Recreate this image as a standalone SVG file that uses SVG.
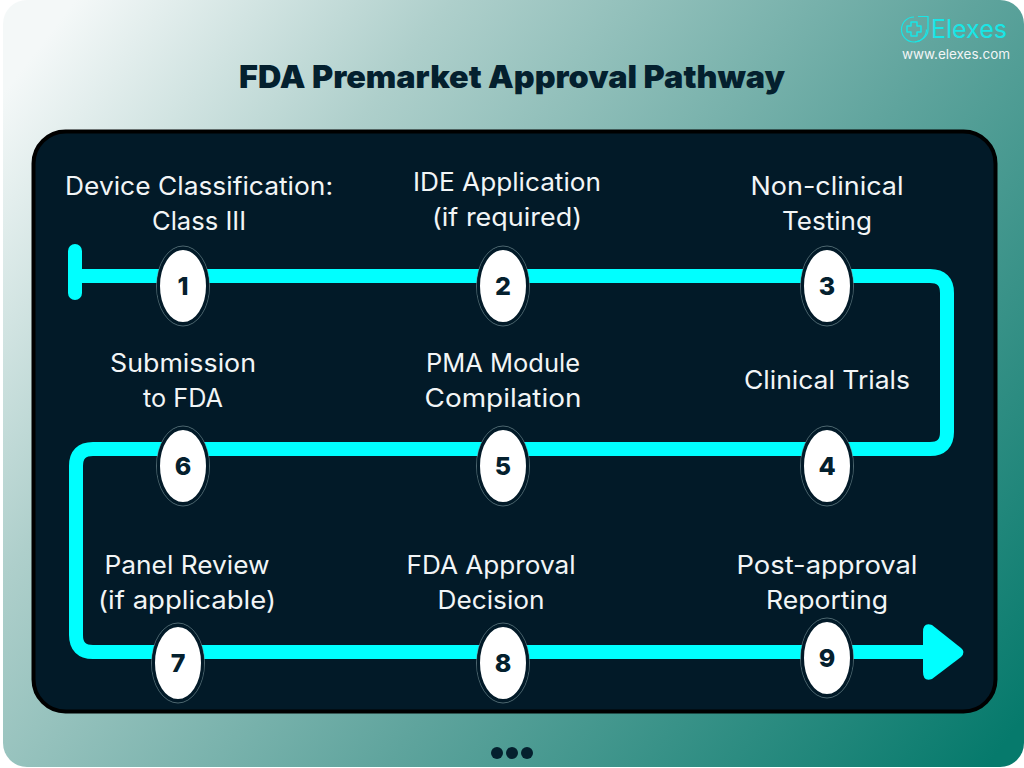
<svg xmlns="http://www.w3.org/2000/svg" width="1024" height="768" viewBox="0 0 1024 768">
<defs>
<linearGradient id="bg" gradientUnits="userSpaceOnUse" x1="60" y1="20" x2="1000" y2="750">
<stop offset="0" stop-color="#f4f8f8"/><stop offset="0.25" stop-color="#aecfcb"/><stop offset="0.6" stop-color="#5fa49d"/><stop offset="1" stop-color="#067a6c"/>
</linearGradient>
<style>
.lbl{font-family:"Inter","Liberation Sans",sans-serif;font-size:25px;fill:#f2f5f6;text-anchor:middle}
.num{font-family:"Inter","Liberation Sans",sans-serif;font-size:25px;font-weight:800;fill:#04202e;text-anchor:middle}
.ov{fill:#fff;stroke:#021a28;stroke-width:3}
.ring{fill:#021a28;stroke:#7f9aa0;stroke-width:0.6}
.track{fill:none;stroke:#00ffff;stroke-width:14;stroke-linejoin:round}
</style>
</defs>
<rect width="1024" height="768" fill="#ffffff"/>
<rect x="3" y="0" width="1021" height="767" rx="24" fill="url(#bg)"/>
<text id="title" x="512" y="88" font-family="Inter,'Liberation Sans',sans-serif" font-size="31" font-weight="900" fill="#04202e" text-anchor="middle" textLength="546" lengthAdjust="spacingAndGlyphs">FDA Premarket Approval Pathway</text>
<g id="logo">
<path d="M914 17 A12.500 12.500 0 1 0 926.500 29.500" fill="none" stroke="#19e6e6" stroke-width="1.2"/>
<path d="M918 16.500 H928 V30 C928 36 922 41 915 42" fill="none" stroke="#19e6e6" stroke-width="1.2"/>
<path d="M911 22 h6 v4 h4 v6 h-4 v4 h-6 v-4 h-4 v-6 h4 z" fill="none" stroke="#19e6e6" stroke-width="1.5" stroke-linejoin="round"/>
<text x="931" y="38" font-family="Inter,'Liberation Sans',sans-serif" font-size="25" fill="#19e6e6" textLength="76" lengthAdjust="spacingAndGlyphs">Elexes</text>
<text x="902" y="59" font-family="Inter,'Liberation Sans',sans-serif" font-size="13.5" fill="#f2f5f6" textLength="108" lengthAdjust="spacingAndGlyphs">www.elexes.com</text>
</g>
<rect id="panel" x="33.500" y="131.500" width="962" height="580" rx="32" fill="#021a28" stroke="#000" stroke-width="4"/>
<g id="connectors">
<path class="track" d="M75 276 H930 Q947 276 947 293 V432 Q947 449 930 449 H93 Q76 449 76 466 V635 Q76 652 93 652 H930"/>
<rect x="68" y="244" width="14" height="56" rx="7" fill="#00ffff"/>
<path d="M923 632 Q923 622 932 625 L961 648 Q966 652 961 657 L932 679 Q923 682 923 672 Z" fill="#00ffff"/>
</g>
<g id="node1"><ellipse class="ring" cx="183" cy="286" rx="26.500" ry="40"/><ellipse class="ov" cx="183" cy="286" rx="24.500" ry="37.500"/><text class="num" x="183" y="295">1</text><text class="lbl" x="199" y="195" textLength="268" lengthAdjust="spacingAndGlyphs">Device Classification:</text><text class="lbl" x="199" y="230" textLength="94" lengthAdjust="spacingAndGlyphs">Class III</text></g>
<g id="node2"><ellipse class="ring" cx="503" cy="286" rx="26.500" ry="40"/><ellipse class="ov" cx="503" cy="286" rx="24.500" ry="37.500"/><text class="num" x="503" y="295">2</text><text class="lbl" x="507" y="191" textLength="188" lengthAdjust="spacingAndGlyphs">IDE Application</text><text class="lbl" x="507" y="226" textLength="150" lengthAdjust="spacingAndGlyphs">(if required)</text></g>
<g id="node3"><ellipse class="ring" cx="827" cy="286" rx="26.500" ry="40"/><ellipse class="ov" cx="827" cy="286" rx="24.500" ry="37.500"/><text class="num" x="827" y="295">3</text><text class="lbl" x="827" y="195" textLength="153" lengthAdjust="spacingAndGlyphs">Non-clinical</text><text class="lbl" x="827" y="230" textLength="90" lengthAdjust="spacingAndGlyphs">Testing</text></g>
<g id="node4"><ellipse class="ring" cx="827" cy="466" rx="26.500" ry="40"/><ellipse class="ov" cx="827" cy="466" rx="24.500" ry="37.500"/><text class="num" x="827" y="475">4</text><text class="lbl" x="827" y="389" textLength="166" lengthAdjust="spacingAndGlyphs">Clinical Trials</text></g>
<g id="node5"><ellipse class="ring" cx="503" cy="466" rx="26.500" ry="40"/><ellipse class="ov" cx="503" cy="466" rx="24.500" ry="37.500"/><text class="num" x="503" y="475">5</text><text class="lbl" x="503" y="372" textLength="154" lengthAdjust="spacingAndGlyphs">PMA Module</text><text class="lbl" x="503" y="407" textLength="157" lengthAdjust="spacingAndGlyphs">Compilation</text></g>
<g id="node6"><ellipse class="ring" cx="183" cy="466" rx="26.500" ry="40"/><ellipse class="ov" cx="183" cy="466" rx="24.500" ry="37.500"/><text class="num" x="183" y="475">6</text><text class="lbl" x="183" y="372" textLength="146" lengthAdjust="spacingAndGlyphs">Submission</text><text class="lbl" x="183" y="407" textLength="80" lengthAdjust="spacingAndGlyphs">to FDA</text></g>
<g id="node7"><ellipse class="ring" cx="178" cy="663" rx="26.500" ry="40"/><ellipse class="ov" cx="178" cy="663" rx="24.500" ry="37.500"/><text class="num" x="178" y="672">7</text><text class="lbl" x="187" y="574" textLength="165" lengthAdjust="spacingAndGlyphs">Panel Review</text><text class="lbl" x="187" y="609" textLength="178" lengthAdjust="spacingAndGlyphs">(if applicable)</text></g>
<g id="node8"><ellipse class="ring" cx="503" cy="663" rx="26.500" ry="40"/><ellipse class="ov" cx="503" cy="663" rx="24.500" ry="37.500"/><text class="num" x="503" y="672">8</text><text class="lbl" x="491" y="574" textLength="169" lengthAdjust="spacingAndGlyphs">FDA Approval</text><text class="lbl" x="491" y="609" textLength="107" lengthAdjust="spacingAndGlyphs">Decision</text></g>
<g id="node9"><ellipse class="ring" cx="827" cy="658" rx="26.500" ry="40"/><ellipse class="ov" cx="827" cy="658" rx="24.500" ry="37.500"/><text class="num" x="827" y="667">9</text><text class="lbl" x="827" y="574" textLength="181" lengthAdjust="spacingAndGlyphs">Post-approval</text><text class="lbl" x="827" y="609" textLength="122" lengthAdjust="spacingAndGlyphs">Reporting</text></g>
<g id="dots" fill="#04202e"><circle cx="497" cy="753" r="6"/><circle cx="512" cy="753" r="6"/><circle cx="527" cy="753" r="6"/></g>
</svg>
